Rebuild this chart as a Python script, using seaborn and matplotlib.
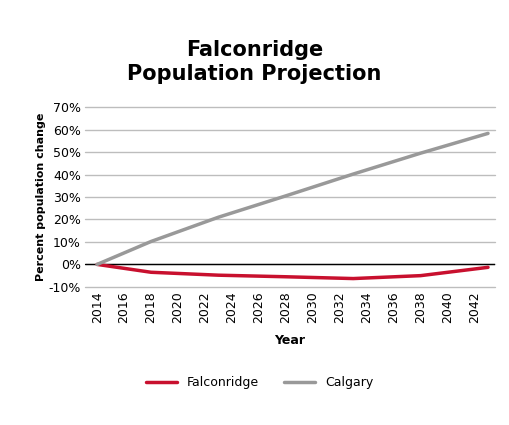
import matplotlib
matplotlib.use("Agg")
import matplotlib.pyplot as plt
import seaborn as sns
import pandas as pd

years = [2014, 2018, 2023, 2028, 2033, 2038, 2043]
falconridge = [0.0, -3.5, -4.8, -5.5, -6.3, -5.0, -1.3]
calgary = [0.0, 10.2, 21.0, 30.5, 40.2, 49.5, 58.3]
xticks = list(range(2014, 2043, 2))
yticks = list(range(-10, 71, 10))

df = pd.DataFrame({"Year": years * 2,
                   "Value": falconridge + calgary,
                   "Series": ["Falconridge"] * len(years) + ["Calgary"] * len(years)})

sns.set_style("white")
plt.rcParams['font.family'] = ['DejaVu Sans']
plt.rcParams['text.color'] = 'black'
plt.rcParams['axes.labelcolor'] = 'black'
plt.rcParams['xtick.color'] = 'black'
plt.rcParams['ytick.color'] = 'black'
fig = plt.figure(figsize=(5.09, 4.25), dpi=100)
ax = fig.add_axes([0.167, 0.325, 0.805, 0.423])
for y in yticks:
    ax.axhline(y, color="#bdbdbd", lw=1, zorder=0, clip_on=False)
ax.axhline(0, color="black", lw=1, zorder=1)
sns.lineplot(data=df, x="Year", y="Value", hue="Series",
             palette={"Falconridge": "#c8102e", "Calgary": "#999999"},
             lw=2.5, ax=ax, legend=False)
ax.set_xlim(2013.1, 2043.5)
ax.set_ylim(-10, 70)
ax.set_xticks(xticks)
ax.set_xticklabels([str(x) for x in xticks], rotation=90, fontsize=9)
ax.set_yticks(yticks)
ax.set_yticklabels([f"{y}%" for y in yticks], fontsize=9)
for s in ax.spines.values():
    s.set_visible(False)
ax.tick_params(length=0, pad=3)
ax.set_xlabel("Year", fontsize=9, fontweight="bold", labelpad=8)
ax.set_ylabel("Percent population change", fontsize=8, fontweight="bold", labelpad=2)
fig.suptitle("Falconridge\nPopulation Projection", fontsize=15, fontweight="bold", y=0.905,
             color="black")
from matplotlib.lines import Line2D
handles = [Line2D([], [], color="#c8102e", lw=2.5), Line2D([], [], color="#999999", lw=2.5)]
fig.legend(handles, ["Falconridge", "Calgary"], loc="center", bbox_to_anchor=(0.51, 0.1),
           ncol=2, frameon=False, fontsize=9, handlelength=2.5)
fig.savefig("out.png", dpi=100)
